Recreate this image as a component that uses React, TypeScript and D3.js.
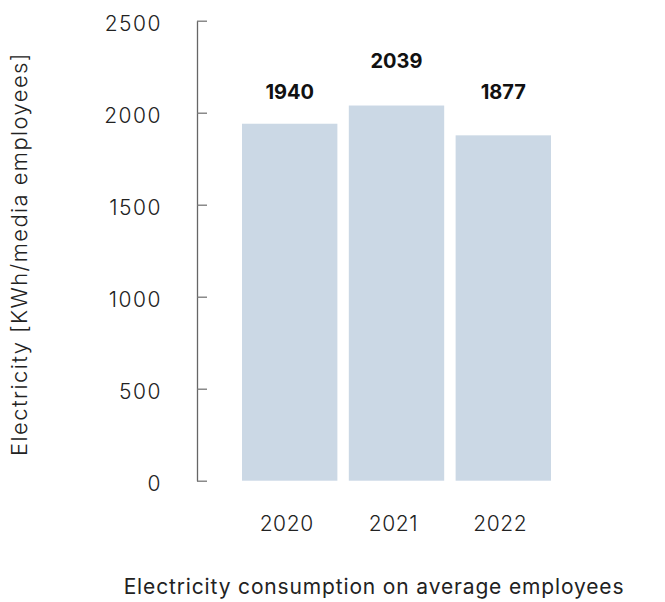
import { useEffect, useRef } from 'react';
import * as d3 from 'd3';

const years: string[] = ['2020', '2021', '2022'];
const values: number[] = [1940, 2039, 1877];
const yTicks: number[] = [0, 500, 1000, 1500, 2000, 2500];

export default function App() {
  const ref = useRef<SVGSVGElement | null>(null);

  useEffect(() => {
    const svg = d3.select(ref.current);
    svg.selectAll('*').remove();

    const W = 665;
    const H = 602;
    const axisX = 197;
    const font = 'Inter, "Noto Sans", sans-serif';

    const y = d3.scaleLinear().domain([0, 2500]).range([480.7, 20.7]);
    const x = d3.scaleBand()
      .domain(years)
      .range([242, 551])
      .paddingInner(0.107)
      .paddingOuter(0);

    svg.attr('width', W).attr('height', H);

    // bars
    svg.selectAll('rect.bar')
      .data(values)
      .enter()
      .append('rect')
      .attr('class', 'bar')
      .attr('x', (_, i) => x(years[i])!)
      .attr('y', d => y(d))
      .attr('width', x.bandwidth())
      .attr('height', d => y(0) - y(d))
      .attr('fill', '#cbd8e5');

    // y axis (ticks pointing inward)
    const axis = svg.append('g')
      .attr('transform', `translate(${axisX},0)`)
      .call(d3.axisRight(y).tickValues(yTicks).tickSize(10).tickSizeOuter(0).tickFormat(() => ''));
    axis.select('.domain').attr('stroke', '#666').attr('stroke-width', 1.3);
    axis.selectAll('.tick line').attr('stroke', '#777').attr('stroke-width', 1.3);
    axis.selectAll('.tick text').remove();

    svg.selectAll('text.ytick')
      .data(yTicks)
      .enter()
      .append('text')
      .attr('class', 'ytick')
      .attr('x', axisX - 35)
      .attr('y', d => y(d))
      .attr('dy', '0.5em')
      .attr('text-anchor', 'end')
      .attr('font-family', font)
      .attr('font-weight', 300)
      .attr('font-size', 21)
      .attr('letter-spacing', 1.5)
      .attr('fill', '#222')
      .text(d => String(d));

    // x labels
    svg.selectAll('text.xtick')
      .data(years)
      .enter()
      .append('text')
      .attr('class', 'xtick')
      .attr('x', d => x(d)! + x.bandwidth() / 2 - 3)
      .attr('y', 530.5)
      .attr('text-anchor', 'middle')
      .attr('font-family', font)
      .attr('font-weight', 300)
      .attr('font-size', 21)
      .attr('letter-spacing', 0.6)
      .attr('fill', '#222')
      .text(d => d);

    // value labels: highest raised, others on a common row
    const maxV = d3.max(values)!;
    svg.selectAll('text.val')
      .data(values)
      .enter()
      .append('text')
      .attr('class', 'val')
      .attr('x', (_, i) => x(years[i])! + x.bandwidth() / 2)
      .attr('y', d => (d === maxV ? y(maxV) - 38 : y(maxV) - 7))
      .attr('text-anchor', 'middle')
      .attr('font-family', font)
      .attr('font-weight', 700)
      .attr('font-size', 20)
      .attr('fill', '#111')
      .text(d => String(d));

    // y title
    svg.append('text')
      .attr('transform', `translate(27,254) rotate(-90)`)
      .attr('text-anchor', 'middle')
      .attr('font-family', font)
      .attr('font-weight', 300)
      .attr('font-size', 22)
      .attr('letter-spacing', 1.4)
      .attr('fill', '#222')
      .text('Electricity [KWh/media employees]');

    // bottom title
    svg.append('text')
      .attr('x', 374)
      .attr('y', 594)
      .attr('text-anchor', 'middle')
      .attr('font-family', font)
      .attr('font-weight', 400)
      .attr('font-size', 21)
      .attr('letter-spacing', 0.85)
      .attr('fill', '#222')
      .text('Electricity consumption on average employees');
  }, []);

  return <svg ref={ref} style={{ position: 'absolute', left: 0, top: 0 }} />;
}
